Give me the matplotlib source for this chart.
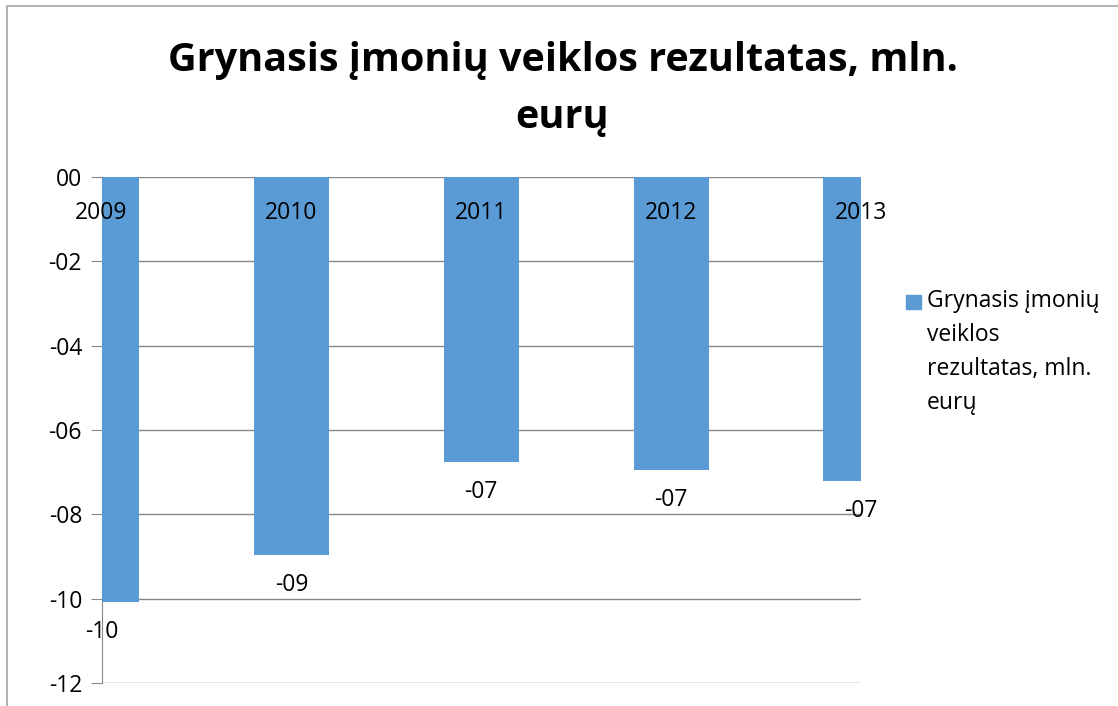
import matplotlib.pyplot as plt
import matplotlib.patches as mpatches

years = [2009, 2010, 2011, 2012, 2013]
values = [-10.08, -8.96, -6.76, -6.95, -7.21]
series_name = 'Grynasis įmonių\nveiklos\nrezultatas, mln.\neurų'
title = 'Grynasis įmonių veiklos rezultatas, mln.\neurų'

plt.rcParams['font.family'] = ['Open Sans', 'DejaVu Sans']
W, H = 1118, 706
fig = plt.figure(figsize=(W / 100, H / 100), dpi=100)

# outer chart frame (only top and left edges are visible)
fig.patches.append(mpatches.Rectangle((7 / W, -0.5), 1.2, 1.5 - 6 / H, transform=fig.transFigure,
                                      fill=False, edgecolor='#a6a6a6', linewidth=1.2))

ax = fig.add_axes([101.5 / W, 1 - 683 / H, (861 - 101.5) / W, (683 - 177) / H])

blue = '#5b9bd5'
grid = '#878787'
fs = 16.5
ax.bar(years, values, width=0.395, color=blue, zorder=3)
ax.set_xlim(2009, 2013)
ax.set_ylim(-12, 0)
ax.set_yticks(range(-12, 1, 2))

def fmt(v):
    v = int(round(v))
    return ('-' if v < 0 else '') + '%02d' % abs(v)

ax.set_yticklabels([fmt(v) for v in range(-12, 1, 2)], fontsize=fs)
ax.yaxis.grid(True, color=grid, linewidth=1, zorder=0)
ax.tick_params(axis='y', length=8, color=grid, pad=6)
ax.set_xticks([])
for s in ['top', 'right', 'bottom']:
    ax.spines[s].set_visible(False)
ax.spines['left'].set_color(grid)

# category labels sit under the zero line, value labels under each bar
for x, v in zip(years, values):
    ax.annotate(str(x), (x, 0), xytext=(0, -17), textcoords='offset points',
                ha='center', va='top', fontsize=fs, zorder=5, annotation_clip=False)
    ax.annotate(fmt(v), (x, v), xytext=(0, -13), textcoords='offset points',
                ha='center', va='top', fontsize=fs, zorder=5, annotation_clip=False)

fig.text(0.5 * (7 + W) / W, 1 - 89 / H, title, ha='center', va='center',
         fontsize=28.5, fontweight='bold', linespacing=1.62)

# legend: square key aligned with the first line of the wrapped label
fig.patches.append(mpatches.Rectangle((906 / W, 1 - 309 / H), 15 / W, 14 / H,
                                      transform=fig.transFigure, color=blue))
fig.text(927 / W, 1 - 289 / H, series_name, ha='left', va='top', fontsize=fs,
         linespacing=1.55)

fig.savefig('out.png', dpi=100)
